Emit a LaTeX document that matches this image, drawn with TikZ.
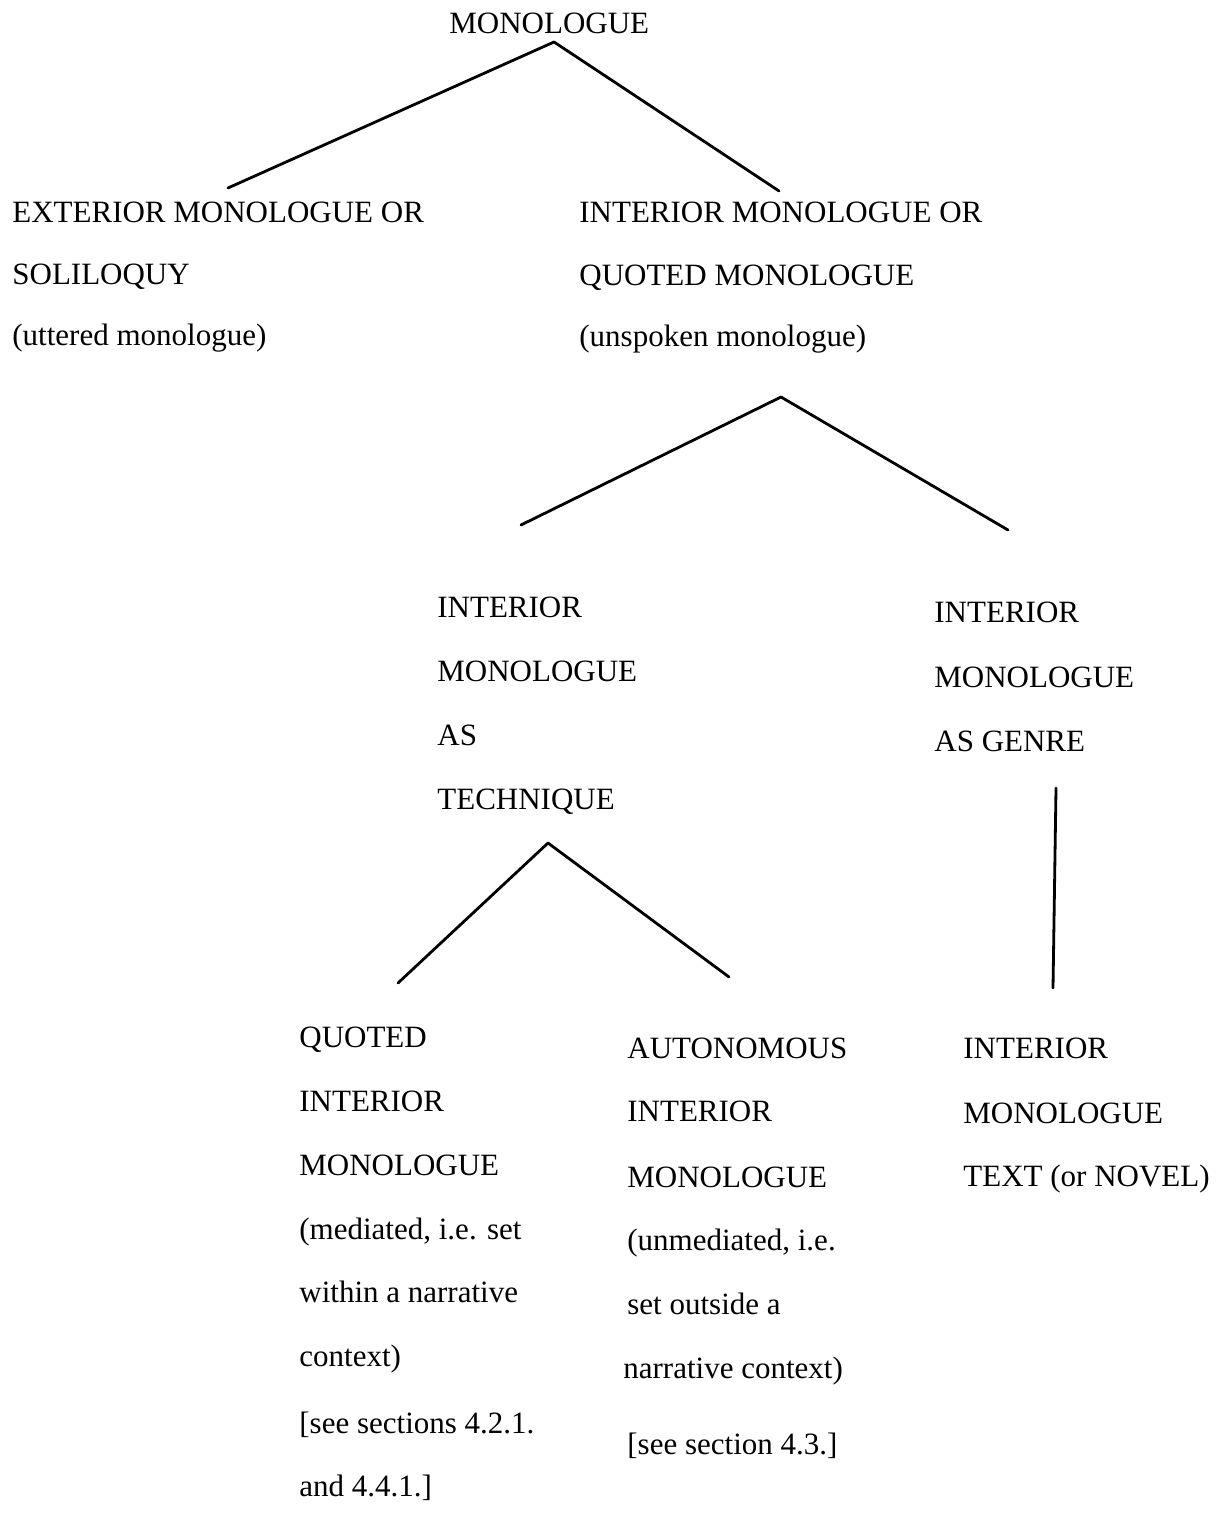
\documentclass[tikz,border=0pt]{standalone}
\usepackage{fontspec}
\setmainfont{Liberation Serif}
\begin{document}
\begin{tikzpicture}[x=0.5pt,y=-0.5pt,
  lbl/.style={anchor=base west, inner sep=0, font=\fontsize{15.5}{18}\selectfont},
  tline/.style={line width=1.4pt, line cap=round, line join=round}]
\useasboundingbox (0,0) rectangle (1221,1519);
% top
\node[lbl] (mono) at (449,34) {MONOLOGUE};
% exterior
\node[lbl] (ext1) at (12,223) {EXTERIOR MONOLOGUE OR};
\node[lbl] (ext2) at (12,285) {SOLILOQUY};
\node[lbl] (ext3) at (12,345) {(uttered monologue)};
% interior
\node[lbl] (int1) at (579,223) {INTERIOR MONOLOGUE OR};
\node[lbl] (int2) at (579,286) {QUOTED MONOLOGUE};
\node[lbl] (int3) at (579,347) {(unspoken monologue)};
% technique
\node[lbl] (tec1) at (437,617) {INTERIOR};
\node[lbl] (tec2) at (437,681) {MONOLOGUE};
\node[lbl] (tec3) at (437,745) {AS};
\node[lbl] (tec4) at (437,809) {TECHNIQUE};
% genre
\node[lbl] (gen1) at (934,622) {INTERIOR};
\node[lbl] (gen2) at (934,687) {MONOLOGUE};
\node[lbl] (gen3) at (934,751) {AS GENRE};
% quoted
\node[lbl] (quo1) at (299,1047) {QUOTED};
\node[lbl] (quo2) at (299,1111) {INTERIOR};
\node[lbl] (quo3) at (299,1175) {MONOLOGUE};
\node[lbl] (quo4) at (299,1239) {(mediated, i.e. set};
\node[lbl] (quo5) at (299,1302) {within a narrative};
\node[lbl] (quo6) at (299,1366) {context)};
\node[lbl] (quo7) at (299,1433) {[see sections 4.2.1.};
\node[lbl] (quo8) at (299,1496) {and 4.4.1.]};
% autonomous
\node[lbl] (aut1) at (627,1058) {AUTONOMOUS};
\node[lbl] (aut2) at (627,1121) {INTERIOR};
\node[lbl] (aut3) at (627,1187) {MONOLOGUE};
\node[lbl] (aut4) at (627,1250) {(unmediated, i.e.};
\node[lbl] (aut5) at (627,1314) {set outside a};
\node[lbl] (aut6) at (623,1378) {narrative context)};
\node[lbl] (aut7) at (627,1454) {[see section 4.3.]};
% text
\node[lbl] (txt1) at (963,1058) {INTERIOR};
\node[lbl] (txt2) at (963,1123) {MONOLOGUE};
\node[lbl] (txt3) at (963,1186) {TEXT (or NOVEL)};
% connector points
\coordinate (a0) at (554,42);
\coordinate (a1) at (228,188);
\coordinate (a2) at (779,191);
\coordinate (b0) at (781,397);
\coordinate (b1) at (521,525);
\coordinate (b2) at (1008,530);
\coordinate (c0) at (548,843);
\coordinate (c1) at (398,983);
\coordinate (c2) at (729,977);
\coordinate (d0) at (1056,788);
\coordinate (d1) at (1053,988);
\draw[tline] (a1) -- (a0) -- (a2);
\draw[tline] (b1) -- (b0) -- (b2);
\draw[tline] (c1) -- (c0) -- (c2);
\draw[tline] (d0) -- (d1);
\end{tikzpicture}
\end{document}
